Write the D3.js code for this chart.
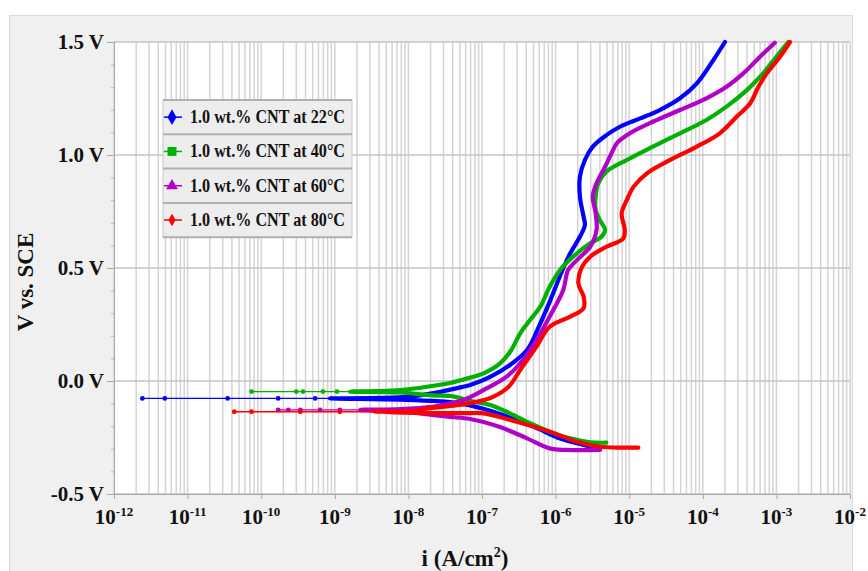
<!DOCTYPE html>
<html>
<head>
<meta charset="utf-8">
<script src="https://cdn.jsdelivr.net/npm/d3@7"></script>
<style>
body{margin:0;background:#fff}
text{font-family:"Liberation Serif","Times New Roman",serif;font-weight:bold;fill:#111}
</style>
</head>
<body>
<script>
var legendLabels = ["1.0 wt.% CNT at 22°C","1.0 wt.% CNT at 40°C","1.0 wt.% CNT at 60°C","1.0 wt.% CNT at 80°C"]
var yTicks = [-0.5,0,0.5,1.0,1.5]
var yTickLabels = ["-0.5 V","0.0 V","0.5 V","1.0 V","1.5 V"]
var xTicks = [1e-12,1e-11,1e-10,1e-9,1e-8,1e-7,1e-6,1e-5,1e-4,1e-3,1e-2]
var xTickExp = ["-12","-11","-10","-9","-8","-7","-6","-5","-4","-3","-2"]

// [i (A/cm2), V]
var t22Tail = [[2.43e-12,-0.077],[4.9e-12,-0.077],[3.5e-11,-0.077],[1.7e-10,-0.077],[5.4e-10,-0.077]]
var t22Cath = [[8.6e-10,-0.077],[7.8e-9,-0.082],[2.1e-8,-0.088],[3.7e-8,-0.093],[6.9e-8,-0.108],[1.76e-7,-0.146],[5.0e-7,-0.202],[1.15e-6,-0.254],[2.4e-6,-0.283],[4.0e-6,-0.302]]
var t22Anod = [[8.6e-10,-0.077],[4.1e-9,-0.075],[1.05e-8,-0.069],[2.1e-8,-0.055],[3.7e-8,-0.038],[6.9e-8,-0.018],[1.29e-7,0.018],[2.4e-7,0.071],[4.1e-7,0.137],[5.8e-7,0.234],[8.3e-7,0.350],[1.27e-6,0.499],[1.58e-6,0.565],[2.14e-6,0.638],[2.5e-6,0.690],[2.4e-6,0.727],[2.14e-6,0.816],[2.14e-6,0.904],[2.5e-6,0.978],[3.2e-6,1.037],[4.9e-6,1.088],[7.5e-6,1.125],[1.41e-5,1.162],[2.6e-5,1.199],[4.9e-5,1.251],[8.3e-5,1.317],[1.39e-4,1.42],[2.0e-4,1.50]]

var t40Tail = [[7.4e-11,-0.047],[3.0e-10,-0.047],[3.7e-10,-0.047],[6.9e-10,-0.047],[1.07e-9,-0.047]]
var t40Cath = [[1.62e-9,-0.047],[7.8e-9,-0.051],[2.1e-8,-0.064],[3.7e-8,-0.066],[6.9e-8,-0.088],[1.29e-7,-0.106],[2.4e-7,-0.143],[4.5e-7,-0.187],[8.3e-7,-0.224],[1.58e-6,-0.254],[2.95e-6,-0.271],[4.9e-6,-0.273]]
var t40Anod = [[1.62e-9,-0.047],[7.8e-9,-0.040],[2.1e-8,-0.022],[3.7e-8,-0.009],[5.6e-8,0.007],[1.05e-7,0.034],[1.76e-7,0.078],[2.5e-7,0.137],[3.3e-7,0.211],[4.5e-7,0.270],[6.2e-7,0.329],[8.3e-7,0.417],[1.2e-6,0.499],[1.95e-6,0.565],[2.95e-6,0.609],[4.2e-6,0.638],[4.7e-6,0.668],[4.0e-6,0.712],[3.5e-6,0.757],[3.5e-6,0.816],[3.8e-6,0.875],[4.9e-6,0.926],[9.3e-6,0.978],[2.1e-5,1.037],[4.9e-5,1.096],[1.12e-4,1.155],[2.1e-4,1.214],[4.0e-4,1.288],[6.6e-4,1.361],[1.0e-3,1.435],[1.45e-3,1.50]]

var t60Tail = [[1.7e-10,-0.128],[2.34e-10,-0.128],[3.4e-10,-0.128],[6.3e-10,-0.128],[1.17e-9,-0.128]]
var t60Cath = [[2.2e-9,-0.128],[7.8e-9,-0.135],[2.1e-8,-0.150],[3.7e-8,-0.159],[6.9e-8,-0.168],[1.76e-7,-0.204],[4.1e-7,-0.254],[8.3e-7,-0.298],[1.41e-6,-0.305],[4.0e-6,-0.305]]
var t60Anod = [[2.2e-9,-0.128],[7.8e-9,-0.124],[2.1e-8,-0.114],[3.7e-8,-0.099],[5.6e-8,-0.084],[1.05e-7,-0.040],[2.16e-7,0.019],[3.6e-7,0.093],[5.5e-7,0.181],[8.3e-7,0.285],[1.27e-6,0.403],[1.48e-6,0.491],[1.95e-6,0.535],[2.95e-6,0.594],[3.6e-6,0.668],[3.5e-6,0.742],[3.2e-6,0.816],[3.6e-6,0.875],[4.7e-6,0.948],[5.75e-6,1.008],[6.8e-6,1.052],[1.02e-5,1.096],[2.1e-5,1.147],[4.9e-5,1.199],[1.12e-4,1.251],[2.1e-4,1.302],[3.55e-4,1.361],[6.0e-4,1.435],[9.5e-4,1.497]]

var t80Tail = [[4.3e-11,-0.136],[7.4e-11,-0.136],[3.4e-10,-0.136],[1.17e-9,-0.136]]
var t80Cath = [[3.3e-9,-0.136],[2.1e-8,-0.142],[6.9e-8,-0.142],[1.05e-7,-0.143],[2.95e-7,-0.180],[8.3e-7,-0.224],[1.95e-6,-0.269],[4.0e-6,-0.291],[8.3e-6,-0.295],[1.33e-5,-0.295]]
var t80Anod = [[3.3e-9,-0.136],[1.05e-8,-0.133],[2.1e-8,-0.119],[5.0e-8,-0.106],[8.5e-8,-0.092],[1.41e-7,-0.070],[2.3e-7,-0.025],[3.3e-7,0.049],[5.5e-7,0.152],[8.3e-7,0.240],[1.58e-6,0.285],[2.4e-6,0.322],[2.4e-6,0.373],[2.04e-6,0.432],[2.24e-6,0.499],[2.95e-6,0.550],[4.9e-6,0.594],[8.3e-6,0.631],[8.7e-6,0.668],[7.9e-6,0.742],[9.3e-6,0.801],[1.15e-5,0.860],[1.74e-5,0.919],[3.6e-5,0.978],[8.3e-5,1.037],[1.7e-4,1.096],[2.9e-4,1.170],[4.4e-4,1.229],[5.7e-4,1.302],[7.4e-4,1.361],[1.12e-3,1.435],[1.53e-3,1.50]]

var series = [
  {tail:t22Tail, cath:t22Cath, anod:t22Anod, color:"#0000ff", symbol:d3.symbolDiamond, size:70},
  {tail:t40Tail, cath:t40Cath, anod:t40Anod, color:"#00b000", symbol:d3.symbolSquare, size:80},
  {tail:t60Tail, cath:t60Cath, anod:t60Anod, color:"#b000c8", symbol:d3.symbolTriangle, size:60},
  {tail:t80Tail, cath:t80Cath, anod:t80Anod, color:"#ff0000", symbol:d3.symbolDiamond, size:45}
]

var svg = d3.select("body").append("svg").attr("width",868).attr("height",571)

svg.append("rect").attr("x",9.5).attr("y",15.5).attr("width",843).attr("height",560)
  .attr("fill","#f0f0f0").attr("stroke","#dadada")

var xScale = d3.scaleLog().domain([1e-12,1e-2]).range([114,850])
var yScale = d3.scaleLinear().domain([-0.5,1.5]).range([494,42])

svg.append("rect").attr("x",114).attr("y",42).attr("width",736).attr("height",452).attr("fill","#fff")

// grid
svg.append("g").selectAll("line").data(xScale.ticks(20)).enter().append("line")
  .attr("x1",function(d){return xScale(d)}).attr("x2",function(d){return xScale(d)})
  .attr("y1",42).attr("y2",494).attr("stroke","#d4d4d4").attr("stroke-width",1.5)

svg.append("g").selectAll("line").data(yTicks).enter().append("line")
  .attr("x1",114).attr("x2",850)
  .attr("y1",function(d){return yScale(d)}).attr("y2",function(d){return yScale(d)})
  .attr("stroke","#c4c4c4").attr("stroke-width",1.5)

// axes
var xAxis = d3.axisBottom(xScale).tickValues(xTicks).tickSize(5).tickFormat("")
var gx = svg.append("g").attr("transform","translate(0,494)").call(xAxis)
gx.selectAll("path,line").attr("stroke","#a8a8a8")

gx.selectAll(".lbl").data(xTicks).enter().append("text")
  .attr("class","lbl")
  .attr("x",function(d){return xScale(d)})
  .attr("y",30)
  .attr("text-anchor","middle")
  .style("font-size","21px")
  .each(function(d,i){
    var t = d3.select(this)
    t.append("tspan").text("10")
    t.append("tspan").attr("dy",-8).style("font-size","13px").text(xTickExp[i])
  })

var minorY = d3.range(-5,16).map(function(d){return d/10})
var gyMinor = svg.append("g").attr("transform","translate(114,0)")
  .call(d3.axisLeft(yScale).tickValues(minorY).tickSize(3).tickFormat(""))
gyMinor.selectAll("path,line").attr("stroke","#b4b4b4")

var yAxis = d3.axisLeft(yScale).tickValues(yTicks).tickSize(7).tickPadding(3)
  .tickFormat(function(d,i){return yTickLabels[i]})
var gy = svg.append("g").attr("transform","translate(114,0)").call(yAxis)
gy.selectAll("path,line").attr("stroke","#a8a8a8")
gy.selectAll("text").style("font-size","21px").style("font-family","Liberation Serif, serif").style("font-weight","bold").attr("fill","#111")

svg.append("text").attr("transform","translate(33,282) rotate(-90)")
  .attr("text-anchor","middle").style("font-size","23px").text("V vs. SCE")

var xt = svg.append("text").attr("x",465).attr("y",566).attr("text-anchor","middle").style("font-size","23px")
xt.append("tspan").text("i (A/cm")
xt.append("tspan").attr("dy",-9).style("font-size","14px").text("2")
xt.append("tspan").attr("dy",9).text(")")

// curves
var thin = d3.line().x(function(d){return xScale(d[0])}).y(function(d){return yScale(d[1])})
var thick = d3.line().x(function(d){return xScale(d[0])}).y(function(d){return yScale(d[1])})
  .curve(d3.curveCatmullRom.alpha(0.5))

series.forEach(function(s){
  var g = svg.append("g")
  g.append("path").datum(s.tail.concat([s.cath[0]])).attr("d",thin)
    .attr("fill","none").attr("stroke",s.color).attr("stroke-width",1.3)
  g.selectAll("circle").data(s.tail).enter().append("circle")
    .attr("cx",function(d){return xScale(d[0])}).attr("cy",function(d){return yScale(d[1])})
    .attr("r",2.4).attr("fill",s.color)
  g.append("path").datum(s.cath.slice().reverse().concat(s.anod.slice(1))).attr("d",thick)
    .attr("fill","none").attr("stroke",s.color).attr("stroke-width",4.2)
    .attr("stroke-linejoin","round").attr("stroke-linecap","round")
})

// legend
var rowH = 34.3
var legend = svg.append("g").attr("transform","translate(163,100)")
legend.append("rect").attr("width",189).attr("height",rowH*4).attr("fill","#ededed").attr("stroke","#c8c8c8")
series.forEach(function(s,i){
  var cy = i*rowH + rowH/2
  legend.append("line").attr("x1",0).attr("x2",189).attr("y1",i*rowH).attr("y2",i*rowH)
    .attr("stroke","#b0b0b0").attr("stroke-width",2)
  legend.append("line").attr("x1",1).attr("x2",19).attr("y1",cy).attr("y2",cy)
    .attr("stroke",s.color).attr("stroke-width",1.5)
  legend.append("path").attr("d",d3.symbol(s.symbol,s.size)).attr("transform","translate(9,"+cy+")").attr("fill",s.color)
  legend.append("text").attr("transform","translate(27,"+(cy+6)+") scale(0.85,1)")
    .style("font-size","19px").text(legendLabels[i])
})
legend.append("line").attr("x1",0).attr("x2",189).attr("y1",rowH*4).attr("y2",rowH*4)
  .attr("stroke","#b0b0b0").attr("stroke-width",2)
</script>
</body>
</html>
